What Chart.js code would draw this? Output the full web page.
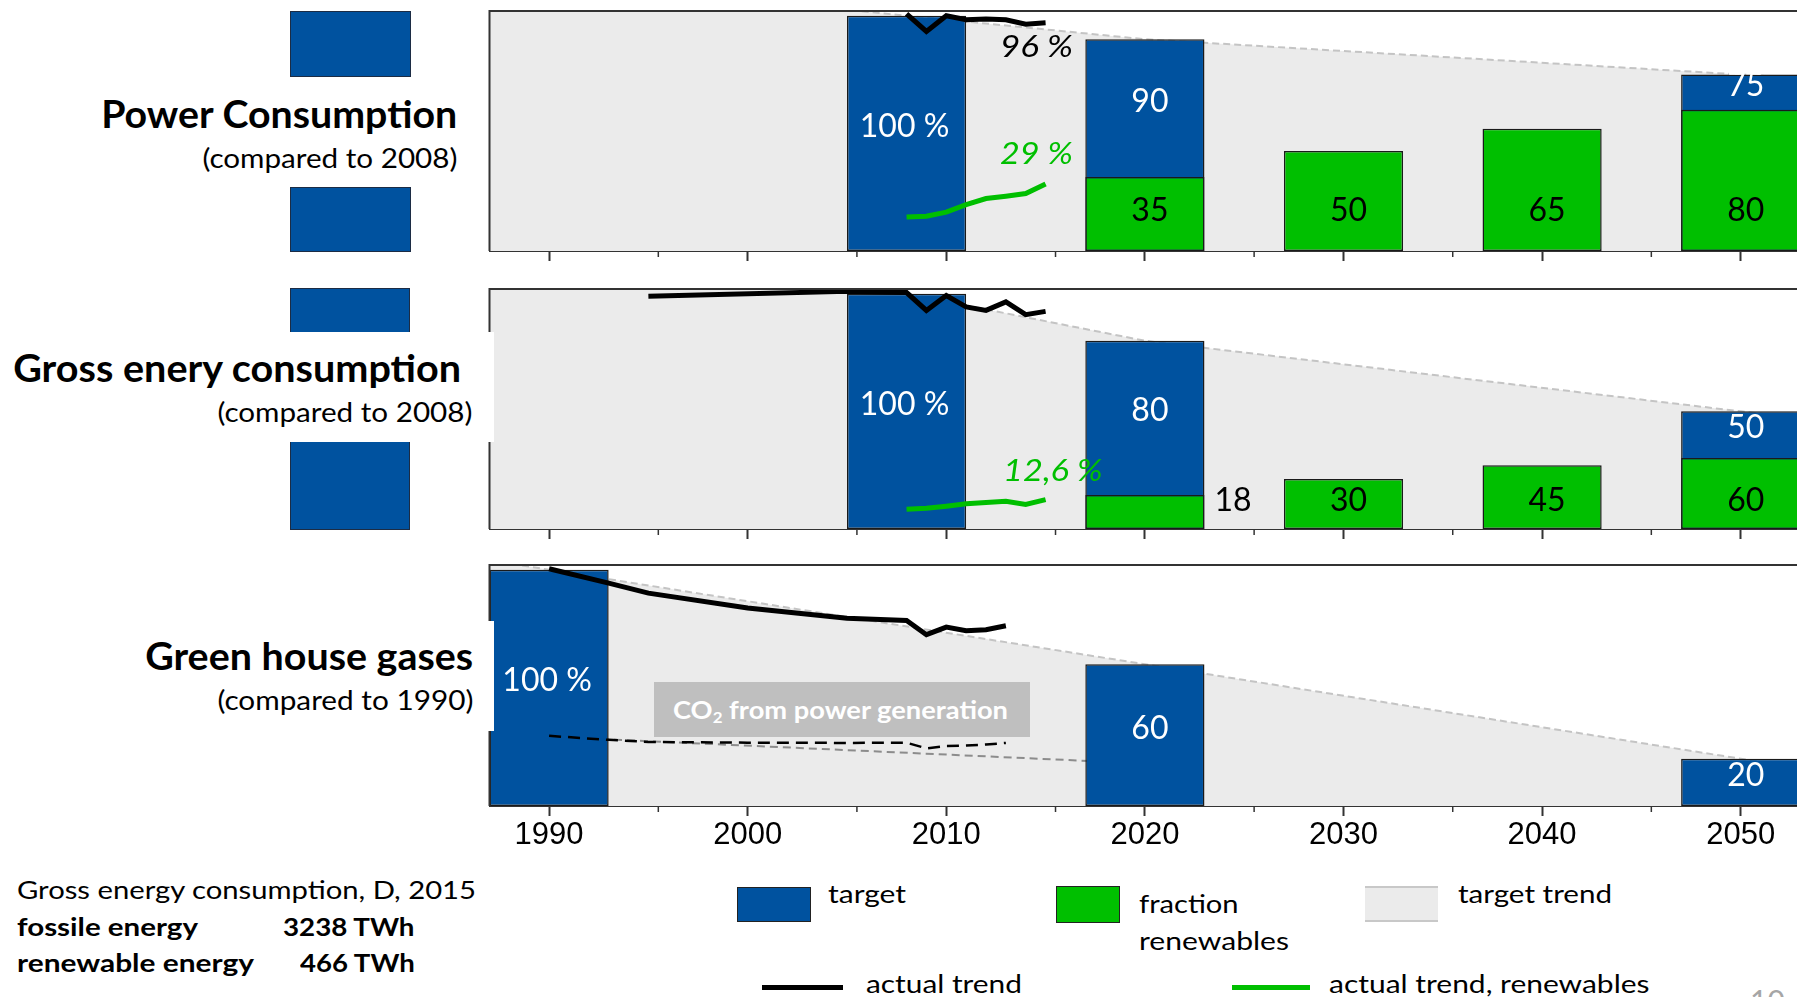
<!DOCTYPE html>
<html><head><meta charset="utf-8">
<script src="https://cdn.jsdelivr.net/npm/chart.js@4.4.1/dist/chart.umd.min.js"></script>
<style>
html,body{margin:0;padding:0;background:#fff;width:1797px;height:997px;overflow:hidden;position:relative;}
canvas{position:absolute;z-index:1;}
.box{position:absolute;box-sizing:border-box;}
.t{position:absolute;white-space:nowrap;z-index:5;}
</style></head><body>
<canvas id="c1" width="1380" height="263" style="left:480px;top:0px"></canvas>
<canvas id="c2" width="1380" height="271" style="left:480px;top:270px"></canvas>
<canvas id="c3" width="1380" height="306" style="left:480px;top:550px"></canvas>
<script>
// ---------- data ----------
const tickYears = [1990, 2000, 2010, 2020, 2030, 2040, 2050];
const minorTickYears = [1995.5, 2005.5, 2015.5, 2025.5, 2035.5, 2045.5];

// Power consumption (compared to 2008)
const powerTargetYears = [2008, 2020, 2050];
const powerTarget = [100, 90, 75];
const powerTargetLabels = ['100 %', '90', '75'];
const powerRenewYears = [2020, 2030, 2040, 2050];
const powerRenew = [31.5, 42.5, 52, 60];
const powerRenewLabels = ['35', '50', '65', '80'];
const powerTrendYears = [1987, 2008, 2020, 2050, 2055];
const powerTrend = [117.5, 100, 90, 75, 72.5];
const powerActualYears = [2008, 2009, 2010, 2011, 2012, 2013, 2014, 2015];
const powerActual = [100.8, 93.3, 100, 98.3, 98.6, 98.3, 96.4, 97.0];
const powerActualRenew = [14.5, 14.8, 16.5, 19.7, 22.3, 23.3, 24.4, 28.5];

// Gross energy consumption (compared to 2008)
const grossTargetYears = [2008, 2020, 2050];
const grossTarget = [100, 80, 50];
const grossTargetLabels = ['100 %', '80', '50'];
const grossRenewYears = [2020, 2030, 2040, 2050];
const grossRenew = [14.4, 21.2, 27.1, 30.2];
const grossRenewLabels = ['18', '30', '45', '60'];
const grossTrendYears = [1987, 2008, 2020, 2050, 2055];
const grossTrend = [135, 100, 80, 50, 45];
const grossActualYears = [1995, 2005, 2008, 2009, 2010, 2011, 2012, 2013, 2014, 2015];
const grossActual = [98.9, 101, 100.5, 92.9, 99.2, 94.4, 92.9, 96.5, 91.1, 92.5];
const grossActualRenewYears = [2008, 2009, 2010, 2011, 2012, 2013, 2014, 2015];
const grossActualRenew = [8.4, 8.8, 9.7, 10.7, 11.3, 11.8, 10.4, 12.5];

// Green house gases (compared to 1990)
const ghgTargetYears = [1990, 2020, 2050];
const ghgTarget = [100, 60, 20];
const ghgTargetLabels = ['100 %', '60', '20'];
const ghgTrendYears = [1987, 1990, 2020, 2050, 2055];
const ghgTrend = [104, 100, 60, 20, 13.3];
const ghgActualYears = [1990, 1993, 1995, 2000, 2005, 2008, 2009, 2010, 2011, 2012, 2013];
const ghgActual = [100.4, 94.3, 90.1, 83.8, 79.5, 78.5, 72.5, 75.7, 74.2, 74.6, 76.3];
const co2PowerYears = [1990, 1993, 1995, 2000, 2005, 2008, 2009, 2010, 2011, 2012, 2013];
const co2Power = [29.7, 28, 27.1, 26.8, 26.7, 26.8, 24.4, 25.4, 25.6, 26.0, 26.7];
const co2TrendYears = [1990, 2020];
const co2Trend = [29.3, 18];

// ---------- styling ----------
const BLUE = '#00529F', GREEN = '#00BF00', FILL = '#EBEBEB';
const pts = (xs, ys) => xs.map((x, i) => ({x: x, y: ys[i]}));

const framePlugin = {
  id: 'frame',
  afterDatasetsDraw(chart) {
    const {ctx, chartArea: a} = chart;
    const x = chart.scales.x;
    ctx.save();
    ctx.strokeStyle = '#333';
    ctx.lineWidth = 2;
    ctx.beginPath();
    ctx.moveTo(a.left, a.bottom); ctx.lineTo(a.left, a.top); ctx.lineTo(a.right, a.top); ctx.lineTo(a.right, a.bottom);
    ctx.stroke();
    ctx.lineWidth = 1.5;
    minorTickYears.forEach(v => {
      const px = x.getPixelForValue(v);
      ctx.beginPath(); ctx.moveTo(px, a.bottom); ctx.lineTo(px, a.bottom + 6); ctx.stroke();
    });
    ctx.restore();
  }
};

const barLabelPlugin = {
  id: 'barLabels',
  afterDatasetsDraw(chart, args, opts) {
    const ctx = chart.ctx, area = chart.chartArea;
    const ds = chart.data.datasets;
    const renewIdx = ds.findIndex(d => d.role === 'renew');
    ctx.save();
    ctx.font = '32px Lato';
    ctx.textBaseline = 'alphabetic';
    ds.forEach((d, di) => {
      if (!d.valueLabels) return;
      const meta = chart.getDatasetMeta(di);
      meta.data.forEach((bar, i) => {
        const label = d.valueLabels[i];
        let cx = bar.x + (label.length <= 2 ? 5 : -2), cy;
        ctx.textAlign = 'center';
        if (d.role === 'target') {
          let segBottom = bar.base;
          if (renewIdx >= 0) {
            const j = ds[renewIdx].data.findIndex(p => p.x === d.data[i].x);
            if (j >= 0) segBottom = chart.getDatasetMeta(renewIdx).data[j].y;
          }
          cy = (bar.y + segBottom) / 2 - 8;
          ctx.fillStyle = '#fff';
        } else {
          cy = area.bottom - opts.renewLift;
          ctx.fillStyle = '#000';
          if (bar.base - bar.y < 40) { cx = bar.x + bar.width / 2 + 10; ctx.textAlign = 'left'; }
        }
        ctx.fillText(label, cx, cy + 11.5);
      });
    });
    ctx.restore();
  }
};

function makeChart(id, c) {
  const datasets = [];
  datasets.push({type: 'line', data: pts(c.trendYears, c.trend), fill: 'origin', backgroundColor: FILL,
    borderColor: '#C4C4C4', borderWidth: 2, borderDash: [7, 4], pointRadius: 0, tension: 0, order: 10});
  if (c.co2TrendYears) datasets.push({type: 'line', data: pts(c.co2TrendYears, c.co2Trend), fill: false,
    borderColor: '#8C8C8C', borderWidth: 2, borderDash: [8, 5], pointRadius: 0, tension: 0, order: 9});
  const barBase = {type: 'bar', borderColor: '#1a1a1a', borderWidth: 1.5, borderSkipped: false,
    grouped: false, barPercentage: 1, categoryPercentage: 0.6};
  datasets.push(Object.assign({}, barBase, {role: 'target', data: pts(c.targetYears, c.target),
    valueLabels: c.targetLabels, backgroundColor: BLUE, order: 8}));
  if (c.renewYears) datasets.push(Object.assign({}, barBase, {role: 'renew', data: pts(c.renewYears, c.renew),
    valueLabels: c.renewLabels, backgroundColor: GREEN, order: 7}));
  if (c.co2Years) datasets.push({type: 'line', data: pts(c.co2Years, c.co2), fill: false, borderColor: '#000',
    borderWidth: 2.5, borderDash: [12, 7], pointRadius: 0, tension: 0, order: 3});
  datasets.push({type: 'line', data: pts(c.actualYears, c.actual), fill: false, borderColor: '#000',
    borderWidth: 5, borderJoinStyle: 'miter', pointRadius: 0, tension: 0, order: 2});
  if (c.actualRenew) datasets.push({type: 'line', data: pts(c.actualRenewYears, c.actualRenew), fill: false,
    borderColor: GREEN, borderWidth: 5, pointRadius: 0, tension: 0, order: 1});

  return new Chart(document.getElementById(id), {
    type: 'bar',
    data: {datasets},
    plugins: [framePlugin, barLabelPlugin],
    options: {
      responsive: false, animation: false, events: [],
      layout: {padding: {left: 9.5, right: 20, top: c.padTop, bottom: 0}},
      plugins: {legend: {display: false}, tooltip: {enabled: false}, barLabels: {renewLift: c.renewLift}},
      scales: {
        x: {
          type: 'linear', min: 1987, max: 2055, offset: false,
          afterBuildTicks: s => { s.ticks = tickYears.map(v => ({value: v})); },
          afterFit: s => { s.height = c.axisH; },
          grid: {display: true, drawOnChartArea: false, drawTicks: true, tickLength: 10, tickWidth: 2, tickColor: '#333', offset: false},
          border: {display: true, color: '#333', width: 2},
          ticks: {display: c.showLabels, font: {family: 'Liberation Sans', size: 31}, color: '#000',
            padding: 1, maxRotation: 0, autoSkip: false, callback: v => String(v)}
        },
        y: {display: false, min: 0, max: 102}
      }
    }
  });
}

makeChart('c1', {padTop: 11, axisH: 12, showLabels: false, renewLift: 42,
  trendYears: powerTrendYears, trend: powerTrend,
  targetYears: powerTargetYears, target: powerTarget, targetLabels: powerTargetLabels,
  renewYears: powerRenewYears, renew: powerRenew, renewLabels: powerRenewLabels,
  actualYears: powerActualYears, actual: powerActual,
  actualRenewYears: powerActualYears, actualRenew: powerActualRenew});

makeChart('c2', {padTop: 19, axisH: 12, showLabels: false, renewLift: 29.5,
  trendYears: grossTrendYears, trend: grossTrend,
  targetYears: grossTargetYears, target: grossTarget, targetLabels: grossTargetLabels,
  renewYears: grossRenewYears, renew: grossRenew, renewLabels: grossRenewLabels,
  actualYears: grossActualYears, actual: grossActual,
  actualRenewYears: grossActualRenewYears, actualRenew: grossActualRenew});

makeChart('c3', {padTop: 15, axisH: 50, showLabels: true, renewLift: 0,
  trendYears: ghgTrendYears, trend: ghgTrend,
  co2TrendYears: co2TrendYears, co2Trend: co2Trend,
  targetYears: ghgTargetYears, target: ghgTarget, targetLabels: ghgTargetLabels,
  co2Years: co2PowerYears, co2: co2Power,
  actualYears: ghgActualYears, actual: ghgActual});

// ---------- decorations ----------
function box(l, t, w, h, css, z) {
  const d = document.createElement('div');
  d.className = 'box';
  d.style.cssText += `left:${l}px;top:${t}px;width:${w}px;height:${h}px;z-index:${z || 2};` + css;
  document.body.appendChild(d);
}
box(290, 11, 121, 66, `background:${BLUE};border:1px solid #1c2c44;`);
box(290, 187, 121, 65, `background:${BLUE};border:1px solid #1c2c44;`);
box(290, 288, 120, 242, `background:${BLUE};border:1px solid #1c2c44;`);
box(0, 332, 494, 110, 'background:#fff;', 3);
box(0, 621, 494, 110, 'background:#fff;', 3);
box(654, 682, 376, 55, 'background:#BFBFBF;', 3);
// legend swatches
box(736.5, 886.5, 74, 35, `background:${BLUE};border:1px solid #222;`);
box(1055.6, 886, 64.4, 36.5, `background:${GREEN};border:1.5px solid #222;`);
box(1364.5, 886, 73, 36, `background:${FILL};border-top:2px solid #C8C8C8;border-bottom:2px solid #C8C8C8;`);
box(762, 984.5, 81, 5, 'background:#000;');
box(1232, 985, 78, 5, `background:${GREEN};`);

function place(o) {
  const d = document.createElement('div');
  d.className = 't';
  d.style.fontFamily = o.family || 'Lato';
  d.style.fontSize = o.size + 'px';
  d.style.fontWeight = o.bold ? '700' : '400';
  d.style.fontStyle = o.italic ? 'italic' : 'normal';
  d.style.lineHeight = o.size + 'px';
  d.style.color = o.color || '#000';
  if (o.html) d.innerHTML = o.html; else d.textContent = o.text;
  const probe = document.createElement('span');
  probe.style.cssText = 'display:inline-block;width:0;height:0;vertical-align:baseline';
  d.appendChild(probe);
  d.style.left = '0px'; d.style.top = '0px';
  document.body.appendChild(d);
  const r = d.getBoundingClientRect();
  const base = probe.getBoundingClientRect().top - r.top;
  const w = r.width;
  const s = o.w ? o.w / w : 1;
  let left = o.x, origin = 'left';
  if (o.align === 'right') { left = o.x - w; origin = 'right'; }
  else if (o.align === 'center') { left = o.x - w / 2; origin = 'center'; }
  d.style.left = left + 'px';
  d.style.top = (o.y - base) + 'px';
  d.style.transformOrigin = origin + ' top';
  d.style.transform = `scaleX(${s})`;
}

// left titles
place({text: 'Power Consumption', x: 457, y: 127.7, w: 356, size: 38, bold: true, align: 'right'});
place({text: '(compared to 2008)', x: 457, y: 167.7, w: 255, size: 27, align: 'right'});
place({text: 'Gross enery consumption', x: 461, y: 382, w: 448, size: 38, bold: true, align: 'right'});
place({text: '(compared to 2008)', x: 472.6, y: 422, w: 255, size: 27, align: 'right'});
place({text: 'Green house gases', x: 473, y: 669.5, w: 328, size: 38, bold: true, align: 'right'});
place({text: '(compared to 1990)', x: 473.4, y: 710, w: 256, size: 27, align: 'right'});

// in-plot annotations
place({text: '96 %', x: 1000, y: 56.7, w: 73, size: 30, italic: true});
place({text: '29 %', x: 1000, y: 164.3, w: 73, size: 30, italic: true, color: GREEN});
place({text: '12,6 %', x: 1003, y: 480.7, w: 99.6, size: 30, italic: true, color: GREEN});
place({html: 'CO<sub style="font-size:0.62em;vertical-align:-0.25em;line-height:0">2</sub> from power generation',
  x: 673, y: 718.5, w: 335, size: 24, bold: true, color: '#fff'});

// bottom-left info
place({text: 'Gross energy consumption, D, 2015', x: 17, y: 899, w: 459, size: 25});
place({text: 'fossile energy', x: 17, y: 935.5, w: 181, size: 25, bold: true});
place({text: '3238 TWh', x: 283, y: 935.5, w: 131.5, size: 25, bold: true});
place({text: 'renewable energy', x: 17, y: 971.7, w: 237, size: 25, bold: true});
place({text: '466 TWh', x: 299.7, y: 971.7, w: 114.8, size: 25, bold: true});

// legend
place({text: 'target', x: 828, y: 903, w: 78, size: 25});
place({text: 'fraction', x: 1139, y: 913, w: 99.6, size: 25});
place({text: 'renewables', x: 1139, y: 950, w: 150, size: 25});
place({text: 'target trend', x: 1457.8, y: 903, w: 154, size: 25});
place({text: 'actual trend', x: 866, y: 993, w: 156, size: 25});
place({text: 'actual trend, renewables', x: 1329, y: 993, w: 320.5, size: 25});
place({text: '10', x: 1750, y: 1012, size: 30, color: '#A6A6A6'});
</script>
</body></html>
